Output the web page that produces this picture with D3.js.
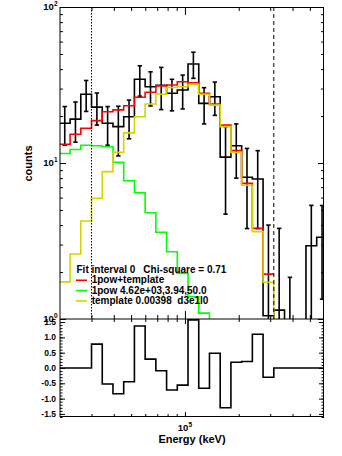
<!DOCTYPE html>
<html>
<head>
<meta charset="utf-8">
<script src="https://cdn.jsdelivr.net/npm/d3@7"></script>
<style>
body{margin:0;background:#fff;}
text{font-family:"Liberation Sans",Arial,sans-serif;font-weight:bold;fill:#000;}
</style>
</head>
<body>
<script>
// energy bin edges (keV)
var binEdges = [19840, 22780, 26150, 30020, 34470, 39580, 45440, 52170, 59900, 68770, 78960,
    90650, 104080, 119500, 137200, 157500, 180850, 207640, 238400, 273700, 314250,
    360800, 414250, 475600, 546000, 627000];
var dataCounts = [18.0, 19.1, 27.6, 22.8, 18.0, 17.1, 19.8, 34.4, 30.8, 31.5, 28.0, 29.4, 43.1,
    24.1, 26.6, 10.9, 12.9, 8.1, 7.9, 1.05, 1.14, 0.7, 0, 2.95, 3.34];
var dataErr = [5.0, 5.5, 6.2, 5.3, 5.0, 6.0, 5.5, 7.6, 7.6, 9.5, 6.4, 7.2, 8.2, 6.3, 6.4, 6.2,
    4.9, 4.3, 4.1, 2.95, 2.67, 1.15, 0, 2.4, 2.0];
var modelTotal = [13.2, 15.3, 16.7, 18.7, 21.3, 21.9, 23.3, 26.4, 28.4, 31.2, 31.6, 33.2, 32.7,
    28.0, 23.9, 17.5, 12.0, 7.4, 3.81, 1.94];
var modelPow = [11.5, 12.2, 13.0, 12.9, 12.7, 10.1, 7.7, 6.45, 4.8, 3.6, 2.7, 1.96, 1.39, 1.09, 0.8];
var modelTemplate = [1.73, 2.61, 4.25, 5.95, 8.8, 11.7, 15.6, 19.8, 23.9, 27.6, 30.5, 30.8, 31.9,
    27.6, 23.5, 17.1, 11.7, 7.2, 3.63, 1.72, 0.5];
var residuals = [0, 0, 0, 0.78, -0.52, -0.84, -0.45, 1.37, 0.29, -0.09, -0.72, -0.56, 1.57,
    -0.66, 0.48, -1.30, 0.19, 0.21, 1.10, -0.30, 0, 0, 0, 0, 0];
var fitInterval = [30020, 314250];

var legendTitle = ["Fit interval 0", "Chi-square = 0.71"];
var legendLabels = ["1pow+template", "1pow 4.62e+03,3.94,50.0", "template 0.00398  d3e1l0"];
var legendColors = ["#ff0000", "#00ff00", "#d4d400"];

var yMajor = [1, 10, 100];
var yMinor = [2, 3, 4, 5, 6, 7, 8, 9, 20, 30, 40, 50, 60, 70, 80, 90];
var xMajor = [1e5];
var xMinor = [3e4, 4e4, 5e4, 6e4, 7e4, 8e4, 9e4, 2e5, 3e5, 4e5, 5e5];
var resMajor = [-1.5, -1.0, -0.5, 0.0, 0.5, 1.0, 1.5];
var resLabels = ["-1.5", "-1.0", "-0.5", "0.0", "0.5", "1.0", "1.5"];

var L = 60, R = 324, T = 7, M = 319, B = 417;

var svg = d3.select("body").append("svg").attr("width", 342).attr("height", 456);

var x = d3.scaleLog().domain([2e4, 6e5]).range([L, R]);
var y = d3.scaleLog().domain([1, 100]).range([M, T]);
var yr = d3.scaleLinear().domain([-1.6, 1.6]).range([B, M]);

var defs = svg.append("defs");
defs.append("clipPath").attr("id", "clipTop").append("rect")
    .attr("x", L).attr("y", T).attr("width", R - L).attr("height", M - T);
defs.append("clipPath").attr("id", "clipRes").append("rect")
    .attr("x", L).attr("y", M).attr("width", R - L).attr("height", B - M);

function steps(vals) {
    var pts = vals.map(function(v, i){ return [binEdges[i], v]; });
    pts.push([binEdges[vals.length], vals[vals.length - 1]]);
    return pts;
}
var stepTop = d3.line().x(function(d){ return x(d[0]); })
    .y(function(d){ return y(Math.max(d[1], 0.3)); }).curve(d3.curveStepAfter);
var stepRes = d3.line().x(function(d){ return x(d[0]); })
    .y(function(d){ return yr(d[1]); }).curve(d3.curveStepAfter);

// top panel
var topG = svg.append("g").attr("clip-path", "url(#clipTop)");
topG.append("path").attr("d", stepTop(steps(dataCounts)))
    .attr("fill", "none").attr("stroke", "#000").attr("stroke-width", 1.6);

var bars = dataCounts.map(function(c, i){
    return {x: (x(binEdges[i]) + x(binEdges[i + 1])) / 2, c: c, e: dataErr[i]};
}).filter(function(d){ return d.e > 0; });
var eb = topG.append("g").attr("stroke", "#000").attr("stroke-width", 1.6);
eb.selectAll(".v").data(bars).enter().append("line")
    .attr("x1", function(d){ return d.x; }).attr("x2", function(d){ return d.x; })
    .attr("y1", function(d){ return y(Math.max(d.c - d.e, 0.3)); })
    .attr("y2", function(d){ return y(d.c + d.e); });
eb.selectAll(".hi").data(bars).enter().append("line")
    .attr("x1", function(d){ return d.x - 2.2; }).attr("x2", function(d){ return d.x + 2.2; })
    .attr("y1", function(d){ return y(d.c + d.e); }).attr("y2", function(d){ return y(d.c + d.e); });
eb.selectAll(".lo").data(bars.filter(function(d){ return d.c - d.e > 0; })).enter().append("line")
    .attr("x1", function(d){ return d.x - 2.2; }).attr("x2", function(d){ return d.x + 2.2; })
    .attr("y1", function(d){ return y(d.c - d.e); }).attr("y2", function(d){ return y(d.c - d.e); });

[modelTotal, modelPow, modelTemplate].forEach(function(m, k){
    topG.append("path").attr("d", stepTop(steps(m)))
        .attr("fill", "none").attr("stroke", legendColors[k]).attr("stroke-width", 1.6);
});

svg.append("line").attr("x1", x(fitInterval[0])).attr("x2", x(fitInterval[0]))
    .attr("y1", T).attr("y2", M).attr("stroke", "#000").attr("stroke-dasharray", "1.5,1.5");
svg.append("line").attr("x1", x(fitInterval[1])).attr("x2", x(fitInterval[1]))
    .attr("y1", T).attr("y2", M).attr("stroke", "#000").attr("stroke-dasharray", "4,3");

// residual panel
svg.append("g").attr("clip-path", "url(#clipRes)").append("path")
    .attr("d", stepRes(steps(residuals)))
    .attr("fill", "none").attr("stroke", "#000").attr("stroke-width", 1.6);

// frames
svg.append("line").attr("x1", L).attr("x2", L).attr("y1", T).attr("y2", B).attr("stroke", "#000");
svg.append("line").attr("x1", L).attr("x2", R).attr("y1", M).attr("y2", M).attr("stroke", "#000");
svg.append("line").attr("x1", L).attr("x2", R).attr("y1", T + 0.5).attr("y2", T + 0.5).attr("stroke", "#000");
svg.append("line").attr("x1", R - 0.5).attr("x2", R - 0.5).attr("y1", T).attr("y2", B).attr("stroke", "#000");
svg.append("line").attr("x1", L).attr("x2", R).attr("y1", B - 0.5).attr("y2", B - 0.5).attr("stroke", "#000");

// ticks
function ticks(axis, tx, ty, vals, size) {
    svg.append("g").attr("transform", "translate(" + tx + "," + ty + ")")
        .call(axis.tickValues(vals).tickSize(size).tickFormat(""))
        .call(function(g){ g.select(".domain").remove(); });
}
ticks(d3.axisTop(x), 0, T, xMajor, -8);
ticks(d3.axisTop(x), 0, T, xMinor, -4);
ticks(d3.axisBottom(x), 0, M, xMajor, -8);
ticks(d3.axisBottom(x), 0, M, xMinor, -4);
ticks(d3.axisTop(x), 0, M, xMajor, -5);
ticks(d3.axisTop(x), 0, M, xMinor, -3);
ticks(d3.axisBottom(x), 0, B, xMajor, -5);
ticks(d3.axisBottom(x), 0, B, xMinor, -3);
ticks(d3.axisRight(y), L, 0, yMajor, 6);
ticks(d3.axisRight(y), L, 0, yMinor, 3);
ticks(d3.axisLeft(y), R, 0, yMajor, 6);
ticks(d3.axisLeft(y), R, 0, yMinor, 3);
var resMinor = d3.range(-16, 17).map(function(k){ return k / 10; });
ticks(d3.axisRight(yr), L, 0, resMajor, 5);
ticks(d3.axisRight(yr), L, 0, resMinor, 2.5);
ticks(d3.axisLeft(yr), R, 0, resMajor, 5);
ticks(d3.axisLeft(yr), R, 0, resMinor, 2.5);
svg.selectAll(".tick line").attr("stroke", "#000");

// labels
var yl = svg.selectAll(".ylab").data(yMajor).enter().append("text")
    .attr("text-anchor", "end").attr("x", 57.5)
    .attr("y", function(d){ return y(d) + 3; }).style("font-size", "9.5px");
yl.append("tspan").text("10");
yl.append("tspan").attr("dy", -4).style("font-size", "6.5px")
    .text(function(d){ return String(Math.round(Math.log10(d))); });

svg.selectAll(".rlab").data(resMajor).enter().append("text")
    .attr("text-anchor", "end").attr("x", 56)
    .attr("y", function(d){ return yr(d) + 3; }).style("font-size", "8.5px")
    .text(function(d, i){ return resLabels[i]; });

var xl = svg.append("text").attr("text-anchor", "middle").attr("x", x(1e5))
    .attr("y", 431).style("font-size", "9.5px");
xl.append("tspan").text("10");
xl.append("tspan").attr("dy", -4).style("font-size", "6.5px").text("5");

svg.append("text").attr("text-anchor", "middle").attr("x", 192).attr("y", 443)
    .style("font-size", "11px").text("Energy (keV)");
svg.append("text").attr("text-anchor", "middle")
    .attr("transform", "translate(32,163.5) rotate(-90)")
    .style("font-size", "11px").text("counts");

// legend
svg.append("text").attr("x", 76.5).attr("y", 273).style("font-size", "10px").text(legendTitle[0]);
svg.append("text").attr("x", 143.3).attr("y", 273).style("font-size", "10px").text(legendTitle[1]);
legendLabels.forEach(function(lab, i){
    var by = 283.3 + i * 10.3;
    svg.append("line").attr("x1", 76).attr("x2", 87).attr("y1", by - 3).attr("y2", by - 3)
        .attr("stroke", legendColors[i]).attr("stroke-width", 1.6);
    svg.append("text").attr("x", 91.7).attr("y", by).style("font-size", "10px")
        .style("white-space", "pre").text(lab);
});
</script>
</body>
</html>
